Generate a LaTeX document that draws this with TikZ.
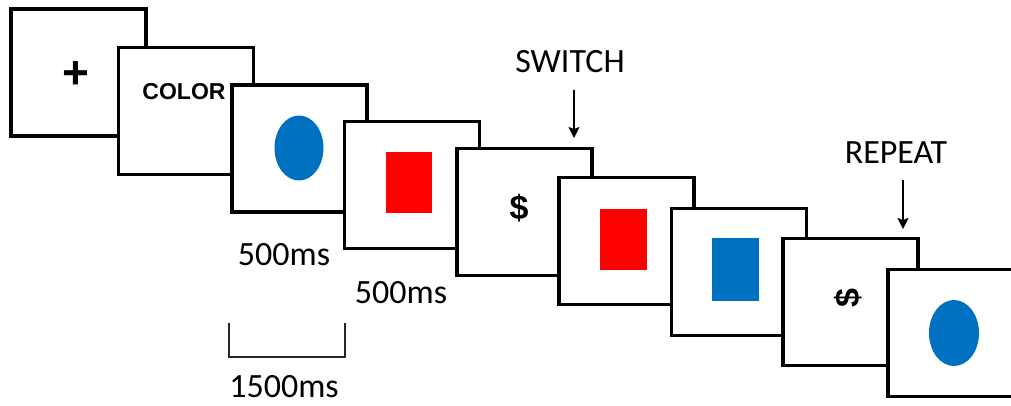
\documentclass[tikz,border=0pt]{standalone}
\usepackage{fontspec}
\setmainfont{Carlito}
\newfontfamily\arialf{Liberation Sans}
\usetikzlibrary{arrows.meta}
\definecolor{stimblue}{HTML}{0070C0}
\definecolor{stimred}{HTML}{FF0000}
\tikzset{
  screen/.style={draw=black, fill=white, line width=3.8pt, minimum width=135pt, minimum height=127pt, inner sep=0pt, outer sep=0pt},
  lbl/.style={font=\fontsize{34}{36}\selectfont, inner sep=0pt, anchor=base},
  cue/.style={font=\arialf\bfseries\fontsize{23}{25}\selectfont, inner sep=0pt, anchor=base},
  dollar/.style={font=\arialf\bfseries\fontsize{34}{36}\selectfont, inner sep=0pt},
  pointer/.style={line width=1.5pt, -{Stealth[length=11pt,width=11pt,inset=2pt]}},
  bracket/.style={line width=1.2pt, draw=black!85}
}
\begin{document}
\begin{tikzpicture}[x=1pt,y=-1pt]
\useasboundingbox (0,0) rectangle (1011,405);
\clip (0,0) rectangle (1011,405);
% screens
\node[screen] (b1) at (78.5,72.5) {};
\node[font=\arialf\bfseries\fontsize{46}{48}\selectfont, inner sep=0pt] (plus) at (76,75) {+};
\node[screen] (b2) at (186,111) {};
\node[cue] (color) at (184,99) {COLOR};
\node[screen] (b3) at (299.5,148.5) {};
\fill[stimblue] (299,148) ellipse [x radius=24.5pt, y radius=32.5pt];
\node[screen] (b4) at (412,185) {};
\fill[stimred] (386,152) rectangle (432,213);
\node[screen] (b5) at (524.5,212) {};
\node[dollar] (d1) at (519,208) {\$};
\node[screen] (b6) at (626.5,241) {};
\fill[stimred] (600,209) rectangle (647,270);
\node[screen] (b7) at (739,272) {};
\fill[stimblue] (712,238) rectangle (759,301);
\node[screen] (b8) at (850.5,302) {};
\node[dollar, rotate=90] (d2) at (848,298) {\$};
\node[screen] (b9) at (955.5,333) {};
\fill[stimblue] (954,333) ellipse [x radius=25pt, y radius=33pt];
% labels
\node[lbl] (sw) at (570,72) {SWITCH};
\node[lbl] (rp) at (896,163) {REPEAT};
\node[lbl] (t1) at (284,265) {500ms};
\node[lbl] (t2) at (401,303) {500ms};
\node[lbl] (t3) at (284,397) {1500ms};
% arrows
\coordinate (swa) at (574,90);
\coordinate (swb) at (574,138);
\coordinate (rpa) at (903,180);
\coordinate (rpb) at (903,229);
\draw[pointer] (swa) -- (swb);
\draw[pointer] (rpa) -- (rpb);
% bracket
\draw[bracket] (229,323) -- (229,357) -- (345,357) -- (345,323);
\end{tikzpicture}
\end{document}
